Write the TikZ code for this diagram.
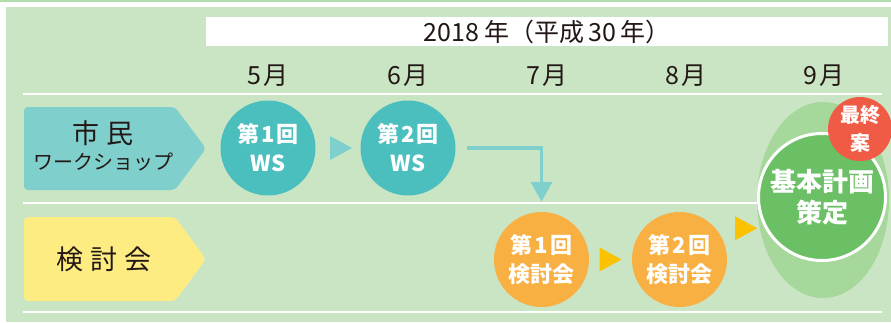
\documentclass[tikz,border=0pt]{standalone}
\usepackage{fontspec}
\setmainfont{Noto Sans CJK JP}
\usetikzlibrary{arrows.meta,calc}

\definecolor{panelgreen}{RGB}{202,229,196}
\definecolor{toplinegreen}{RGB}{178,222,172}
\definecolor{labelteal}{RGB}{127,207,205}
\definecolor{wsteal}{RGB}{75,190,190}
\definecolor{labelyellow}{RGB}{253,236,130}
\definecolor{mtgorange}{RGB}{248,176,67}
\definecolor{triyellow}{RGB}{250,194,0}
\definecolor{plangreen}{RGB}{107,191,100}
\definecolor{shadegreen}{RGB}{166,215,155}
\definecolor{finalred}{RGB}{239,91,69}
\definecolor{inkblack}{RGB}{35,24,21}

\newcommand{\nth}[1]{第\hspace{2pt}#1\hspace{2pt}回}

\begin{document}
\begin{tikzpicture}[x=1pt,y=-1pt,
	month/.style={text=inkblack, font=\fontsize{25}{28}\selectfont},
	rowlabel/.style={text=inkblack, align=center},
	stepcircle/.style={circle, minimum size=95pt, inner sep=0pt, text=white, align=center,
		font=\bfseries\fontsize{22}{29}\selectfont},
	ws/.style={stepcircle, fill=wsteal},
	mtg/.style={stepcircle, fill=mtgorange},
	elbow/.style={draw=labelteal, line width=3.5pt, -{Triangle[width=21pt,length=20pt]}}]
	\useasboundingbox (0,0) rectangle (891,322);

	% background
	\fill[toplinegreen] (0,0) rectangle (891,1.5);
	\fill[panelgreen] (6,7) rectangle (891,322);
	\fill[white] (206,17) rectangle (888,46);
	\node[text=inkblack, font=\fontsize{25}{28}\selectfont] (year) at (547,31.5) {2018\hspace{6pt}年（平成\hspace{4pt}30\hspace{4pt}年）};

	\foreach \m/\x in {5/268,6/408,7/547,8/686,9/824}
		\node[month] (m\m) at (\x,76) {\m\hspace{3pt}月};

	\foreach \y in {94,203,312}
		\draw[white, line width=2pt] (23,\y) -- (882,\y);

	% row labels
	\fill[labelteal, rounded corners=4pt] (24,107) -- (175,107) -- (206,148.5) -- (175,190) -- (24,190) -- cycle;
	\node[rowlabel] (wslabel) at (103,146) {{\fontsize{27}{30}\selectfont 市\hspace{7pt}民}\\[6pt]{\fontsize{20}{24}\selectfont ワークショップ}};
	\fill[labelyellow, rounded corners=4pt] (24,217) -- (175,217) -- (206,259) -- (175,301) -- (24,301) -- cycle;
	\node[rowlabel, font=\fontsize{27}{30}\selectfont] (mtglabel) at (104,259) {検\hspace{7pt}討\hspace{7pt}会};

	% workshops
	\node[ws] (ws1) at (268,148) {\nth{1}\\WS};
	\node[ws] (ws2) at (408,148) {\nth{2}\\WS};
	\fill[labelteal] ($(ws1.east)!0.5!(ws2.west)$) ++(-8,-12) -- ++(22,12) -- ++(-22,12) -- cycle;

	% meetings
	\node[mtg] (kt1) at (541.5,259.5) {\nth{1}\\検討会};
	\node[mtg] (kt2) at (679.5,259.5) {\nth{2}\\検討会};
	\draw[elbow] ([xshift=11pt]ws2.east) -| ([yshift=10pt]kt1.north);

	% final plan
	\fill[shadegreen] (823,200) ellipse [x radius=66, y radius=98];
	\node[circle, fill=plangreen, draw=white, line width=3pt, minimum size=127pt, inner sep=0pt,
		text=white, align=center, font=\bfseries\fontsize{26}{31}\selectfont] (plan) at (822,197) {基本計画\\策定};
	\node[circle, fill=finalred, minimum size=64pt, inner sep=0pt, text=white, align=center,
		font=\bfseries\fontsize{20}{28}\selectfont] (final) at (860,129) {最終\\案};

	\fill[triyellow] ($(kt1.east)!0.5!(kt2.west)$) ++(-11,-12) -- ++(22,12) -- ++(-22,12) -- cycle;
	\fill[triyellow] ($(kt2.east)!0.5!(plan.west)$) ++(-7,-12) -- ++(22,12) -- ++(-22,12) -- cycle;
\end{tikzpicture}
\end{document}
